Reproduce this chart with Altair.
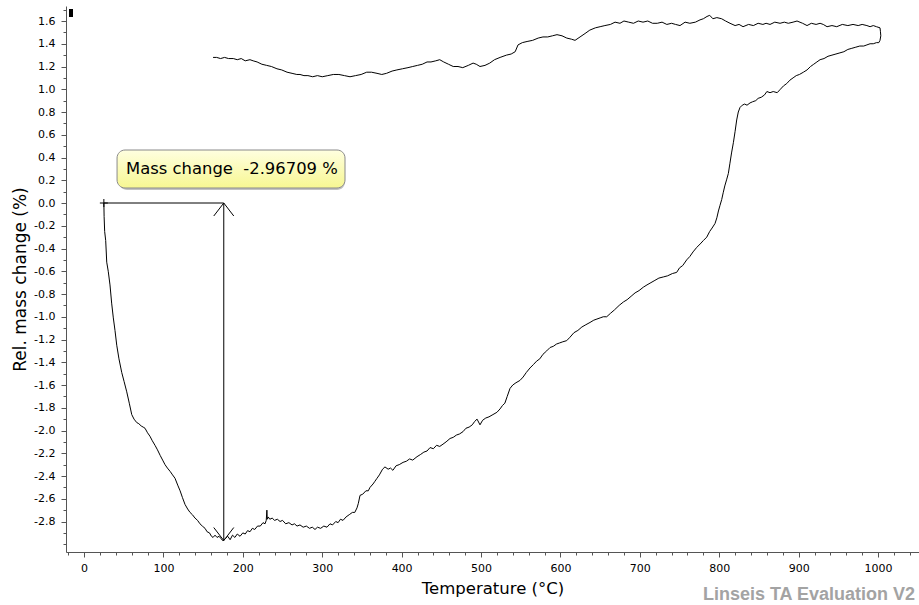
import altair as alt
import pandas as pd

# ---- curve data: (temperature in °C, relative mass change in %) ----
drop = [
    (25, 0.00), (25.3, -0.12), (26, -0.25), (27.3, -0.33), (28.6, -0.52), (30.5, -0.60),
    (32.7, -0.72), (34.8, -0.88), (36.9, -1.01), (39, -1.12), (41.2, -1.25), (44, -1.37),
    (47.5, -1.49), (50.5, -1.57), (53.8, -1.66), (57, -1.76), (60.1, -1.86), (63, -1.90),
    (66.4, -1.93), (69, -1.94), (72, -1.96), (74.5, -1.97), (76.8, -1.98), (80, -2.02),
    (83, -2.05), (86, -2.09), (89.4, -2.13), (92.5, -2.17), (96, -2.22), (99, -2.26),
    (102, -2.30), (105, -2.33), (108.5, -2.36), (111.5, -2.39), (114.6, -2.42), (118, -2.48),
    (121, -2.53), (124, -2.59), (127.2, -2.65), (130.5, -2.69), (133.5, -2.72), (136.5, -2.74),
    (139.8, -2.77), (143, -2.79), (146, -2.82), (149, -2.84), (152.4, -2.86), (155, -2.89),
    (158, -2.90), (160.5, -2.93), (162.5, -2.94), (165, -2.92), (167.5, -2.94), (170, -2.93),
    (172.5, -2.95), (175, -2.97),
]
trough = [
    (178, -2.95), (181, -2.93), (184, -2.96), (187, -2.92), (190, -2.94), (193, -2.91),
    (196.5, -2.93), (200, -2.90), (203, -2.91), (206, -2.88), (209, -2.89), (212, -2.86),
    (215, -2.87), (218.5, -2.84), (222, -2.84), (225.4, -2.81), (228, -2.82), (229.5, -2.79),
    (230.3, -2.70), (230.8, -2.78), (232, -2.76), (234, -2.78), (237, -2.77), (240, -2.79),
    (243.5, -2.78), (246.9, -2.80), (250, -2.79), (254, -2.82), (258, -2.81), (262, -2.83),
    (265, -2.82), (268.3, -2.84), (272, -2.83), (276, -2.85), (280, -2.84), (284, -2.86),
    (287.5, -2.85), (290.9, -2.87), (294, -2.85), (298, -2.86), (302, -2.84), (306, -2.85),
    (309.8, -2.82), (313, -2.83), (317, -2.80), (320, -2.81), (323, -2.78), (326.2, -2.79),
    (330, -2.76), (334, -2.74), (338, -2.72), (341, -2.72), (343.8, -2.68), (345.5, -2.64),
    (347.6, -2.57),
]
rise = [
    (351, -2.56), (355, -2.53), (358, -2.53), (360.2, -2.50), (364, -2.47), (366, -2.45),
    (369, -2.42), (372, -2.39), (376, -2.34), (379, -2.32), (383, -2.34), (386, -2.33),
    (389, -2.35), (393, -2.31), (397, -2.30), (401.8, -2.28), (406, -2.27), (410, -2.25),
    (414, -2.26), (419.4, -2.23), (424, -2.21), (428, -2.19), (432, -2.18), (435.8, -2.15),
    (440, -2.16), (444, -2.13), (448, -2.14), (452.1, -2.12), (456, -2.10), (461, -2.07),
    (465, -2.06), (469, -2.04), (473, -2.03), (477.3, -2.01), (481, -1.98), (485, -1.97),
    (489, -1.95), (492, -1.92), (495, -1.90), (498.7, -1.95), (502, -1.91), (506, -1.89),
    (510, -1.88), (515, -1.86), (520, -1.84), (524, -1.81), (527, -1.78), (530, -1.76),
    (533, -1.70), (536.5, -1.63), (540, -1.60), (544, -1.58), (549, -1.56), (553, -1.53),
    (557, -1.49), (561.7, -1.45), (566, -1.42), (570, -1.39), (574, -1.37), (578, -1.33),
    (582.7, -1.30), (587, -1.27), (591, -1.26), (595, -1.24), (599, -1.23), (603, -1.22),
    (607.9, -1.21), (612, -1.18), (617, -1.14), (622, -1.12), (627, -1.09), (632, -1.07),
    (637.3, -1.05), (642, -1.03), (646, -1.02), (650, -1.01), (654, -1.00), (658.3, -1.00),
    (663, -0.97), (668, -0.94), (674, -0.90), (679.3, -0.87), (684, -0.85), (689, -0.82),
    (694, -0.79), (699, -0.77), (704.4, -0.74), (709, -0.72), (714, -0.70), (719, -0.68),
    (724, -0.66), (729.6, -0.65), (735, -0.64), (741, -0.62), (746.4, -0.61), (750, -0.57),
    (754, -0.55), (759, -0.50), (763, -0.47), (767, -0.43), (771.7, -0.39), (776, -0.36),
    (780, -0.33), (784.3, -0.30), (788, -0.25), (791, -0.22), (794.7, -0.18),
]
steep = [
    (797, -0.13), (799, -0.07), (801, -0.02), (803.1, 0.03), (805, 0.09), (807, 0.15),
    (809.5, 0.21), (811.5, 0.26), (813.5, 0.35), (815.5, 0.44), (817.8, 0.53), (820, 0.63),
    (822, 0.73), (824, 0.80), (826.2, 0.84),
]
upper_heat = [
    (829, 0.86), (832, 0.87), (835, 0.86), (838.8, 0.88), (842, 0.89), (846, 0.90),
    (849, 0.92), (853, 0.93), (857, 0.95), (860, 0.98), (864, 0.97), (868, 0.98),
    (873, 0.97), (877, 1.00), (881, 1.03), (885, 1.05), (889, 1.08), (893, 1.10),
    (897, 1.12), (901, 1.13), (906, 1.15), (910.6, 1.17), (915, 1.20), (919, 1.22),
    (923, 1.24), (927, 1.26), (932, 1.27), (937, 1.29), (942, 1.30), (947, 1.31),
    (952, 1.32), (957, 1.33), (962, 1.35), (967, 1.36), (972, 1.37), (977, 1.38),
    (982, 1.38), (986, 1.39), (990, 1.40), (994, 1.40), (998, 1.41), (1001, 1.41),
    (1002.5, 1.43), (1003.5, 1.47), (1003, 1.51), (1002.5, 1.54),
]
cooling = [
    (998, 1.55), (994, 1.56), (990, 1.55), (986, 1.56), (980, 1.57), (975, 1.56),
    (968.5, 1.57), (962, 1.56), (955, 1.57), (948, 1.55), (942, 1.56), (935.8, 1.55),
    (931, 1.57), (927, 1.58), (922, 1.57), (916, 1.58), (910.6, 1.56), (905, 1.58),
    (898, 1.60), (893, 1.59), (887, 1.58), (882, 1.59), (876.6, 1.58), (870, 1.59),
    (864, 1.57), (859, 1.58), (855, 1.57), (849, 1.58), (843, 1.56), (837, 1.57),
    (830, 1.55), (825, 1.57), (820, 1.56), (813.6, 1.58), (808, 1.60), (803, 1.62),
    (797, 1.63), (792, 1.62), (788, 1.65), (784.6, 1.64), (780, 1.62), (775.8, 1.61),
    (770, 1.59), (763, 1.58), (757, 1.59), (750.6, 1.56), (745, 1.57), (740, 1.58),
    (734, 1.57), (728, 1.59), (722, 1.58), (716, 1.58), (710, 1.60), (704, 1.59),
    (698, 1.60), (692, 1.58), (686, 1.59), (680, 1.60), (675, 1.58), (668.8, 1.59),
    (663, 1.57), (656, 1.56), (650, 1.55), (644, 1.54), (637, 1.52), (631, 1.49),
    (624.7, 1.46), (618.4, 1.43), (614, 1.44), (608, 1.45), (602, 1.47), (595.7, 1.48),
    (590, 1.47), (584, 1.46), (578, 1.46), (572, 1.45), (565, 1.43), (558, 1.42),
    (552, 1.41), (546.6, 1.39), (543, 1.33), (538, 1.31), (532, 1.30), (524, 1.28),
    (517, 1.26), (511, 1.23), (505, 1.21), (498.7, 1.20), (494, 1.22), (490, 1.23),
    (484, 1.21), (477, 1.19), (471, 1.20), (465, 1.20), (459, 1.22), (453, 1.24),
    (448, 1.26), (443, 1.25), (437, 1.24), (432, 1.24), (426, 1.22), (420, 1.21),
    (414, 1.20), (408, 1.19), (401, 1.18), (394, 1.17), (388, 1.16), (381, 1.14),
    (375, 1.13), (369, 1.14), (362, 1.15), (356, 1.15), (349, 1.13), (342, 1.12),
    (335, 1.11), (328, 1.12), (321, 1.13), (314, 1.13), (307, 1.12), (300, 1.11),
    (294, 1.12), (288, 1.11), (282, 1.12), (277, 1.12), (272, 1.13), (268, 1.13),
    (262, 1.14), (255.7, 1.15), (249, 1.17), (243, 1.18), (236, 1.20), (230, 1.21),
    (224, 1.22), (218, 1.24), (213, 1.25), (209, 1.26), (203, 1.25), (198, 1.27),
    (193, 1.26), (188, 1.27), (182, 1.27), (177, 1.28), (172, 1.27), (167, 1.28),
    (162.5, 1.28),
]

# ---- axis ticks ----
x_major = [0, 100, 200, 300, 400, 500, 600, 700, 800, 900, 1000]
x_minor = [-20, 20, 40, 60, 80, 120, 140, 160, 180, 220, 240, 260, 280, 320, 340, 360, 380,
           420, 440, 460, 480, 520, 540, 560, 580, 620, 640, 660, 680, 720, 740, 760, 780,
           820, 840, 860, 880, 920, 940, 960, 980, 1020, 1040]
y_major = [-2.8, -2.6, -2.4, -2.2, -2.0, -1.8, -1.6, -1.4, -1.2, -1.0, -0.8, -0.6, -0.4,
           -0.2, 0.0, 0.2, 0.4, 0.6, 0.8, 1.0, 1.2, 1.4, 1.6]
y_minor = [-3.0, -2.9, -2.7, -2.5, -2.3, -2.1, -1.9, -1.7, -1.5, -1.3, -1.1, -0.9, -0.7,
           -0.5, -0.3, -0.1, 0.1, 0.3, 0.5, 0.7, 0.9, 1.1, 1.3, 1.5, 1.7]

# ---- mass-change annotation ----
t_start = 25
t_min = 176
mass_change = -2.96709
box_t = [41.6, 328.7]
box_m = [0.132, 0.466]
label_t = 53
label_m = 0.30

X_DOM = [-22.7, 1051.6]
Y_DOM = [-3.068, 1.732]

rows = []
i = 0
for seg in (drop, trough, rise, steep, upper_heat, cooling):
    for t, m in seg:
        rows.append({"T": t, "m": m, "i": i})
        i += 1
df = pd.DataFrame(rows)

xs = alt.Scale(domain=X_DOM, nice=False, zero=False)
ys = alt.Scale(domain=Y_DOM, nice=False, zero=False)
FONT = "DejaVu Sans"
AX = "#555555"

line = alt.Chart(df).mark_line(color="black", strokeWidth=1).encode(
    x=alt.X("T:Q", scale=xs, axis=alt.Axis(
        values=x_major, format="d", title="Temperature (°C)", orient="bottom",
        tickSize=5, labelPadding=5, titlePadding=7, titleFontSize=16.5, grid=False)),
    y=alt.Y("m:Q", scale=ys, axis=alt.Axis(
        values=y_major, format=".1f", labelExpr="replace(datum.label, '\u2212', '-')",
        title="Rel. mass change (%)", orient="left", tickSize=5, labelPadding=6,
        titlePadding=4, titleFontSize=17, grid=False)),
    order="i:Q",
)

minor = alt.Chart(df).mark_point(opacity=0).encode(
    x=alt.X("T:Q", scale=xs, axis=alt.Axis(values=x_minor, labels=False, tickSize=3,
                                             domain=False, title=None, orient="bottom", grid=False)),
    y=alt.Y("m:Q", scale=ys, axis=alt.Axis(values=y_minor, labels=False, tickSize=3,
                                             domain=False, title=None, orient="left", grid=False)),
)

ann = pd.DataFrame({"t0": [t_start], "t1": [t_min], "m0": [0.0], "m1": [mass_change],
                    "bt0": [box_t[0]], "bt1": [box_t[1]], "bm0": [box_m[0]], "bm1": [box_m[1]],
                    "lt": [label_t], "lm": [label_m],
                    "label": [f"Mass change\u00a0 {mass_change:.5f} %"]})
A = alt.Chart(ann)

hline = A.mark_rule(color="black", strokeWidth=1).encode(
    x=alt.X("t0:Q", scale=xs, axis=None), x2="t1:Q", y=alt.Y("m0:Q", scale=ys, axis=None))
vline = A.mark_rule(color="black", strokeWidth=1).encode(
    x=alt.X("t1:Q", scale=xs, axis=None), y=alt.Y("m0:Q", scale=ys, axis=None), y2="m1:Q")
arrow_top = A.mark_point(shape="M-0.77,1L0,0L0.77,1", filled=False, size=676,
                         color="black", strokeWidth=1, opacity=1).encode(
    x=alt.X("t1:Q", scale=xs, axis=None), y=alt.Y("m0:Q", scale=ys, axis=None))
arrow_bot = A.mark_point(shape="M-0.77,-1L0,0L0.77,-1", filled=False, size=676,
                         color="black", strokeWidth=1, opacity=1).encode(
    x=alt.X("t1:Q", scale=xs, axis=None), y=alt.Y("m1:Q", scale=ys, axis=None))
start_cross = A.mark_point(shape="M0,-1L0,1M-1,0L1,0", filled=False, size=64,
                           color="black", strokeWidth=1, opacity=1).encode(
    x=alt.X("t0:Q", scale=xs, axis=None), y=alt.Y("m0:Q", scale=ys, axis=None))

grad = alt.LinearGradient(gradient="linear", x1=0, y1=0, x2=0, y2=1,
                          stops=[alt.GradientStop(offset=0, color="#ffffe0"),
                                 alt.GradientStop(offset=1, color="#f7f792")])
box_shadow = A.mark_rect(cornerRadius=8, color="#9a9a9a", opacity=0.6, xOffset=2, yOffset=2).encode(
    x=alt.X("bt0:Q", scale=xs, axis=None), x2="bt1:Q",
    y=alt.Y("bm0:Q", scale=ys, axis=None), y2="bm1:Q")
box = A.mark_rect(cornerRadius=8, fill=grad, stroke="#8a8a8a", strokeWidth=1).encode(
    x=alt.X("bt0:Q", scale=xs, axis=None), x2="bt1:Q",
    y=alt.Y("bm0:Q", scale=ys, axis=None), y2="bm1:Q")
box_text = A.mark_text(align="left", baseline="middle", font=FONT, fontSize=16.4,
                       color="black").encode(
    x=alt.X("lt:Q", scale=xs, axis=None), y=alt.Y("lm:Q", scale=ys, axis=None), text="label:N")

marker = alt.Chart(alt.Data(values=[{"k": 1}])).mark_rect(color="black").encode(
    x=alt.value(3), x2=alt.value(7), y=alt.value(3), y2=alt.value(11))

watermark = alt.Chart(alt.Data(values=[{"w": "Linseis TA Evaluation V2"}])).mark_text(
    align="right", baseline="alphabetic", font="Liberation Sans", fontWeight="bold",
    fontSize=18, color="#a3a3a3").encode(
    x=alt.value(849), y=alt.value(594), text="w:N")

chart = alt.layer(
    minor, line, hline, vline, arrow_top, arrow_bot, start_cross,
    box_shadow, box, box_text, marker, watermark,
).resolve_axis(x="independent", y="independent").properties(
    width=853, height=546,
    background="white",
    autosize=alt.AutoSizeParams(type="none"),
    padding={"left": 66, "top": 6, "right": 0, "bottom": 53},
).configure_view(strokeWidth=0).configure_axis(
    labelFont=FONT, labelFontSize=11, labelColor="black",
    titleFont=FONT, titleFontSize=14, titleFontWeight="normal", titleColor="black",
    domainColor=AX, tickColor=AX, domainWidth=1, tickWidth=1,
)

chart.save("out.html", embed_options={"renderer": "svg", "actions": False})
